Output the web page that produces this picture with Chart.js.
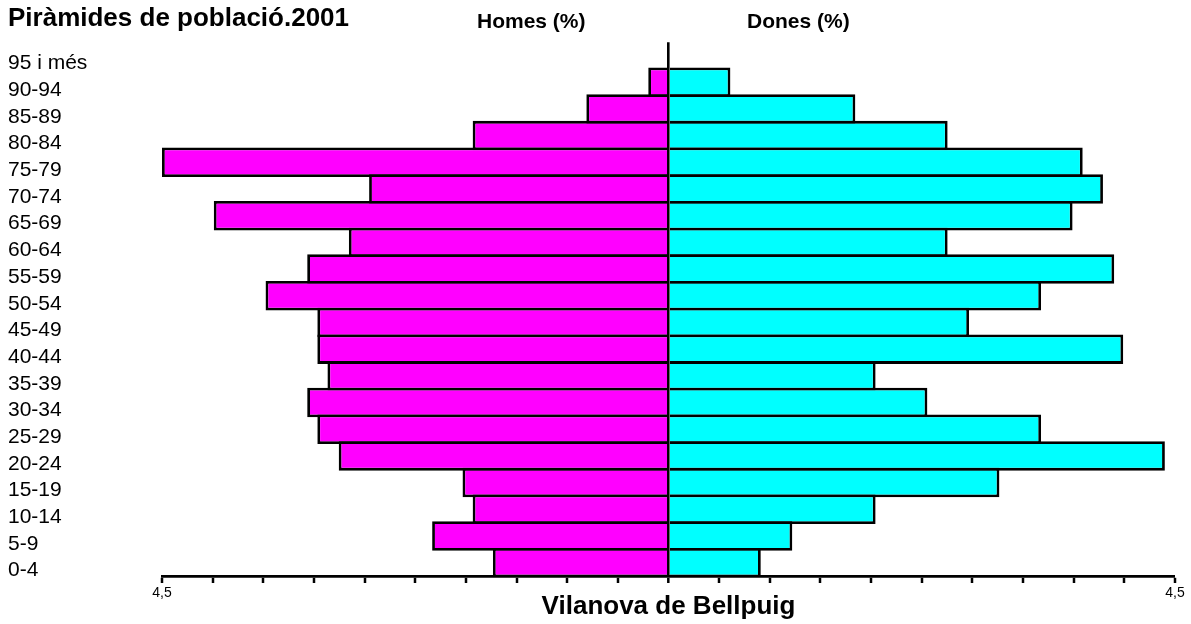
<!DOCTYPE html>
<html lang="ca">
<head>
    <meta charset="UTF-8">
    <title>Piràmides de població.2001</title>
    <style>
        body {
            margin: 0;
            background: #fff;
            font-family: "Liberation Sans", Arial, sans-serif;
        }

        #wrap {
            position: relative;
            width: 1191px;
            height: 624px;
        }

        .side {
            position: absolute;
            top: 10px;
            font-size: 21px;
            line-height: 21px;
            font-weight: bold;
            color: #000;
        }
    </style>
</head>
<body>
<div id="wrap">
    <canvas id="pyramid" width="1191" height="624"></canvas>
    <div class="side" style="left: 477px">Homes (%)</div>
    <div class="side" style="left: 747px">Dones (%)</div>
</div>
<script src="https://cdn.jsdelivr.net/npm/chart.js@4.4.1/dist/chart.umd.min.js"></script>
<script>
    // age groups, top to bottom
    const ageGroups = ["95 i més", "90-94", "85-89", "80-84", "75-79", "70-74", "65-69", "60-64", "55-59", "50-54",
        "45-49", "40-44", "35-39", "30-34", "25-29", "20-24", "15-19", "10-14", "5-9", "0-4"];

    // % of population
    const homes = [0, 0.18, 0.73, 1.74, 4.50, 2.66, 4.04, 2.84, 3.21, 3.58,
        3.12, 3.12, 3.03, 3.21, 3.12, 2.93, 1.83, 1.74, 2.10, 1.56];
    const dones = [0, 0.55, 1.66, 2.48, 3.68, 3.86, 3.59, 2.48, 3.96, 3.31,
        2.67, 4.04, 1.84, 2.30, 3.31, 4.41, 2.94, 1.84, 1.10, 0.82];

    const axisMax = 4.5;
    const axisStep = 0.45;
    const axisLabel = "4,5";

    Chart.defaults.font.family = "'Liberation Sans', Arial, sans-serif";
    Chart.defaults.color = "#000";

    // bars overlap by one border so neighbours share a single line
    const barOpts = {
        borderColor: "#000",
        borderWidth: 2.8,
        barPercentage: 1.105,
        categoryPercentage: 1
    };

    new Chart("pyramid", {
        type: "bar",
        data: {
            labels: ageGroups,
            datasets: [
                {label: "Homes (%)", data: homes.map(v => -v), backgroundColor: "#ff00ff", ...barOpts},
                {label: "Dones (%)", data: dones, backgroundColor: "#00ffff", ...barOpts}
            ]
        },
        options: {
            indexAxis: "y",
            responsive: false,
            animation: false,
            layout: {
                padding: {left: 8, right: 16, top: 0, bottom: 0}
            },
            plugins: {
                legend: {display: false},
                tooltip: {enabled: false},
                title: {
                    display: true,
                    text: "Piràmides de població.2001",
                    align: "start",
                    color: "#000",
                    font: {size: 26, weight: "bold"},
                    padding: {top: 3, bottom: 8}
                }
            },
            scales: {
                x: {
                    type: "linear",
                    stacked: true,
                    min: -axisMax,
                    max: axisMax,
                    z: 1,
                    afterFit: scale => {
                        scale.height = 48;
                    },
                    border: {display: true, color: "#000", width: 2.8},
                    grid: {
                        drawOnChartArea: true,
                        color: ctx => Math.abs(ctx.tick.value) < 1e-9 ? "#000" : "transparent",
                        lineWidth: ctx => Math.abs(ctx.tick.value) < 1e-9 ? 2.6 : 0,
                        tickColor: "#000",
                        tickWidth: 2.5,
                        tickLength: 7
                    },
                    ticks: {
                        stepSize: axisStep,
                        autoSkip: false,
                        maxRotation: 0,
                        padding: 2,
                        font: {size: 14},
                        callback: v => Math.abs(Math.abs(v) - axisMax) < 1e-9 ? axisLabel : ""
                    },
                    title: {
                        display: true,
                        text: "Vilanova de Bellpuig",
                        font: {size: 26, weight: "bold"},
                        padding: {top: 0, bottom: 2}
                    }
                },
                y: {
                    stacked: true,
                    afterFit: scale => {
                        scale.width = 154;
                    },
                    border: {display: false},
                    grid: {display: false},
                    ticks: {
                        autoSkip: false,
                        crossAlign: "far",
                        labelOffset: 8,
                        font: {size: 21}
                    }
                }
            }
        }
    });
</script>
</body>
</html>
